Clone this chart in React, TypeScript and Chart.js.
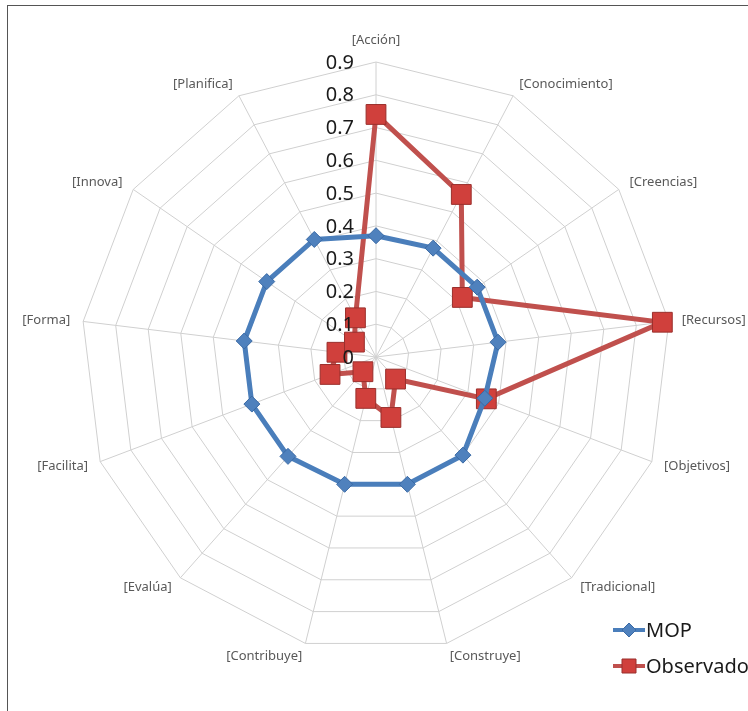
import React, { useEffect, useRef } from 'react';
import { Chart, registerables } from 'chart.js';

Chart.register(...registerables);

const categories = [
  '[Acción]', '[Conocimiento]', '[Creencias]', '[Recursos]', '[Objetivos]',
  '[Tradicional]', '[Construye]', '[Contribuye]', '[Evalúa]', '[Facilita]',
  '[Forma]', '[Innova]', '[Planifica]',
];
const seriesNames = ['MOP', 'Observado'];
const mopValues = [0.37, 0.375, 0.375, 0.375, 0.355, 0.4, 0.4, 0.4, 0.405, 0.405, 0.405, 0.405, 0.405];
const observadoValues = [0.74, 0.56, 0.32, 0.88, 0.36, 0.09, 0.19, 0.13, 0.06, 0.15, 0.12, 0.08, 0.135];
const tickValues = [0, 0.1, 0.2, 0.3, 0.4, 0.5, 0.6, 0.7, 0.8, 0.9];
const tickLabels = ['0', '0.1', '0.2', '0.3', '0.4', '0.5', '0.6', '0.7', '0.8', '0.9'];

const BLUE = '#4a7ebb';
const RED = '#c0504d';

const tickLabelPlugin = {
  id: 'tickLabelPlugin',
  afterDatasetsDraw(chart: any) {
    const s = chart.scales.r;
    const ctx = chart.ctx;
    ctx.save();
    ctx.font = '20px "Noto Sans"';
    ctx.fillStyle = '#1a1a1a';
    ctx.textAlign = 'right';
    ctx.textBaseline = 'middle';
    tickValues.forEach((v, i) => {
      const d = s.getDistanceFromCenterForValue(v);
      ctx.fillText(tickLabels[i], s.xCenter - 22, s.yCenter - d + 1);
    });
    ctx.restore();
  },
};

const pointLabelPlugin = {
  id: 'pointLabelPlugin',
  beforeDatasetsDraw(chart: any) {
    const s = chart.scales.r;
    const ctx = chart.ctx;
    const labels: string[] = chart.data.labels;
    ctx.save();
    ctx.font = '13px "Noto Sans"';
    ctx.fillStyle = '#595959';
    ctx.textBaseline = 'middle';
    labels.forEach((lab, i) => {
      const angle = s.getIndexAngle(i);
      const sin = Math.sin(angle);
      let extra = 13;
      let align: CanvasTextAlign = 'center';
      if (sin > 0.1) align = 'left';
      else if (sin < -0.1) align = 'right';
      else extra = 22;
      const p = s.getPointPosition(i, s.drawingArea + extra);
      ctx.textAlign = align;
      ctx.fillText(lab, p.x, p.y);
    });
    ctx.restore();
  },
};

const legendPlugin = {
  id: 'customLegend',
  afterDraw(chart: any) {
    const ctx = chart.ctx;
    ctx.save();
    chart.data.datasets.forEach((ds: any, i: number) => {
      const y = 630 + i * 36;
      ctx.strokeStyle = ds.borderColor;
      ctx.lineWidth = 4;
      ctx.beginPath();
      ctx.moveTo(613, y);
      ctx.lineTo(645, y);
      ctx.stroke();
      ctx.fillStyle = ds.pointBackgroundColor;
      ctx.strokeStyle = ds.pointBorderColor;
      ctx.lineWidth = 1;
      ctx.beginPath();
      if (i === 0) {
        ctx.moveTo(629, y - 7);
        ctx.lineTo(636, y);
        ctx.lineTo(629, y + 7);
        ctx.lineTo(622, y);
        ctx.closePath();
      } else {
        ctx.rect(622, y - 7, 14, 14);
      }
      ctx.fill();
      ctx.stroke();
      ctx.font = '20px "Noto Sans"';
      ctx.fillStyle = '#1a1a1a';
      ctx.textAlign = 'left';
      ctx.textBaseline = 'middle';
      ctx.fillText(ds.label, 646, y + 1);
    });
    ctx.restore();
  },
};

export default function App() {
  const ref = useRef<HTMLCanvasElement | null>(null);
  useEffect(() => {
    if (!ref.current) return;
    const chart = new Chart(ref.current, {
      type: 'radar',
      data: {
        labels: categories,
        datasets: [
          {
            label: seriesNames[0],
            data: mopValues,
            borderColor: BLUE,
            backgroundColor: 'rgba(0,0,0,0)',
            borderWidth: 5,
            fill: false,
            pointStyle: 'rectRot',
            pointRadius: 8,
            pointHoverRadius: 8,
            pointBackgroundColor: '#4f81bd',
            pointBorderColor: '#3a6aa5',
            pointBorderWidth: 1,
          },
          {
            label: seriesNames[1],
            data: observadoValues,
            borderColor: RED,
            backgroundColor: 'rgba(0,0,0,0)',
            borderWidth: 5,
            fill: false,
            pointStyle: 'rect',
            pointRadius: 14,
            pointHoverRadius: 14,
            pointBackgroundColor: '#d0403c',
            pointBorderColor: '#9a2f2c',
            pointBorderWidth: 1,
          },
        ],
      },
      options: {
        animation: false,
        responsive: true,
        maintainAspectRatio: false,
        layout: { padding: { top: 62, bottom: 59, left: 81, right: 77 } },
        plugins: {
          legend: { display: false },
          tooltip: { enabled: false },
        },
        elements: { line: { tension: 0 } },
        scales: {
          r: {
            min: 0,
            max: 0.9,
            ticks: { stepSize: 0.1, display: false },
            grid: { color: '#d0d0d0', lineWidth: 1 },
            angleLines: { color: '#d0d0d0', lineWidth: 1 },
            pointLabels: { display: false },
          },
        },
      },
      plugins: [tickLabelPlugin, pointLabelPlugin, legendPlugin],
    });
    return () => chart.destroy();
  }, []);

  return (
    <div style={{ position: 'absolute', left: 0, top: 0, width: 748, height: 711, overflow: 'hidden', background: '#fff' }}>
      <div style={{ position: 'absolute', left: 7, top: 5, width: 900, height: 900, border: '1px solid #555' }} />
      <div style={{ position: 'absolute', left: 0, top: 0, width: 748, height: 711 }}>
        <canvas ref={ref} />
      </div>
    </div>
  );
}
